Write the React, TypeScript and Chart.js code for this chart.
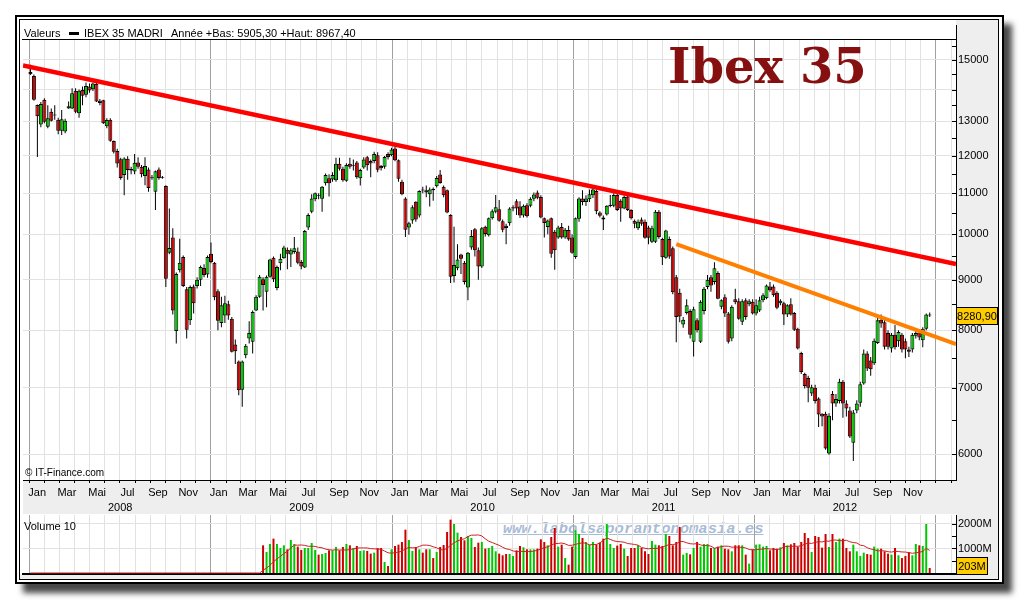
import React, { useEffect, useRef } from "react";
import { Chart, registerables } from "chart.js";

Chart.register(...registerables);
Chart.defaults.font.family = "'Liberation Sans', Arial, sans-serif";
Chart.defaults.font.size = 11;
Chart.defaults.color = "#000";

// ---------------- data ----------------
const firstWeek = "2008-01-03";
const axisStart = "2007-12-19";
const axisEnd = "2013-02-11";

const opens = [
  14580, 14450, 13510, 12910, 13670, 12840, 13300, 13180, 13050, 12720,
  12700, 13400, 13400, 13960, 13250, 13990, 13830, 14100, 14010, 14180,
  13570, 13660, 12860, 13050, 12420, 12140, 11910, 11480, 11920, 11640,
  11570, 11820, 11700, 11450, 11630, 11420, 11040, 11630, 11400, 11190,
  9580, 9930, 7990, 9200, 9490, 8800, 8190, 8860, 8870, 9000,
  9250, 9110, 9560, 9360, 8760, 8140, 8280, 8500, 8220, 7740,
  7440, 6970, 7550, 7850, 7790, 8380, 8650, 9010, 8750, 9060,
  9470, 8830, 9350, 9460, 9650, 9540, 9600, 9610, 9380, 9260,
  10160, 10540, 10850, 10960, 10860, 11260, 11390, 11360, 11340, 11780,
  11650, 11330, 11780, 11720, 11820, 11390, 11680, 11960, 11860, 11860,
  12020, 11720, 11700, 12050, 12020, 12210, 11880, 11300, 10870, 10160,
  10330, 10790, 10450, 11100, 11080, 10980, 11120, 11180, 11490, 11170,
  11080, 10460, 9080, 9240, 9540, 9360, 8840, 9700, 10120, 9640,
  9280, 10180, 9980, 10380, 10540, 10600, 10310, 10200, 10260, 10620,
  10800, 10670, 10450, 10700, 10690, 10860, 11020, 10910, 10380, 10170,
  10380, 10060, 9930, 10170, 9930, 10100, 9930, 9490, 10370, 10870,
  10780, 10850, 10950, 11060, 10520, 10400, 10470, 10680, 10690, 10960,
  10810, 10620, 10920, 10580, 10320, 10140, 10350, 10300, 10160, 9830,
  9830, 10540, 9890, 9470, 9890, 9680, 9050, 8730, 8110, 8330,
  8370, 7790, 8190, 7790, 8370, 8850, 9050, 8950, 9140, 8450,
  8640, 8320, 7850, 8600, 8560, 8160, 8580, 8500, 8550, 8320,
  8380, 8580, 8620, 8860, 8860, 8730, 8520, 8520, 8300, 8500,
  8330, 8030, 7590, 7230, 7160, 6910, 7000, 6830, 6590, 6590,
  6010, 6900, 6750, 6790, 7100, 6750, 6640, 6160, 6640, 6760,
  7070, 7580, 7460, 7410, 7770, 8200, 8150, 7950, 7670, 7920,
  7800, 7920, 7800, 7650, 7650, 7900, 7960, 7820, 8030, 8300,
];

const highs = [
  14830, 14500, 13520, 13600, 13720, 13500, 13400, 13500, 13110, 13350,
  13080, 13620, 14040, 14040, 14000, 14100, 14230, 14200, 14230, 14250,
  13700, 13670, 13100, 13100, 12440, 12200, 11950, 11960, 11990, 11700,
  12050, 11960, 11750, 11960, 11680, 11480, 11600, 11680, 11450, 11210,
  10620, 10140, 9150, 9900, 9520, 8850, 8880, 8900, 9050, 9300,
  9330, 9520, 9810, 9380, 8800, 8650, 8670, 8570, 8250, 7830,
  7460, 7460, 7750, 8170, 8380, 8680, 9100, 9050, 9090, 9450,
  9500, 9300, 9560, 9740, 9700, 9680, 9940, 9700, 9420, 10100,
  10500, 10980, 11020, 11000, 11190, 11520, 11500, 11550, 11950, 11950,
  11700, 11800, 11950, 11900, 11860, 11650, 11960, 12000, 11900, 12120,
  12100, 11750, 12000, 12100, 12230, 12300, 11900, 11350, 10900, 10300,
  10700, 10800, 11080, 11170, 11200, 11150, 11150, 11450, 11610, 11200,
  11100, 10480, 10180, 9770, 9560, 9400, 9600, 10100, 10150, 9700,
  10170, 10200, 10400, 10600, 10960, 10830, 10350, 10250, 10650, 10700,
  10850, 10800, 10720, 10750, 10900, 11020, 11070, 10950, 10400, 10350,
  10400, 10100, 10200, 10270, 10150, 10200, 10000, 10400, 10900, 11080,
  10950, 11100, 11150, 11100, 10550, 10450, 10700, 10960, 11000, 11000,
  10850, 10950, 10950, 10600, 10350, 10350, 10400, 10350, 10200, 10200,
  10580, 10580, 9920, 10110, 9950, 9720, 9100, 8810, 8250, 8600,
  8400, 8450, 8230, 8580, 8850, 9100, 9100, 9370, 9180, 8600,
  8700, 8350, 8480, 8810, 8620, 8600, 8620, 8600, 8600, 8600,
  8650, 8720, 8900, 8950, 8900, 8760, 8600, 8550, 8500, 8620,
  8350, 8050, 7610, 7250, 7200, 7050, 7050, 6850, 6600, 6620,
  6600, 6950, 6900, 7150, 7130, 6800, 6700, 6650, 6800, 7100,
  7650, 7620, 7520, 7850, 8250, 8300, 8200, 8000, 7950, 8100,
  8000, 7950, 7850, 7700, 7950, 8000, 8000, 8060, 8320, 8340,
];

const lows = [
  14480, 13640, 11970, 12830, 12950, 12800, 13000, 13050, 12620, 12600,
  12650, 13390, 13380, 13250, 13110, 13500, 13750, 13900, 13950, 13600,
  13500, 12920, 12800, 12400, 12070, 11680, 11350, 10950, 11350, 11500,
  11500, 11650, 11420, 11210, 11040, 11350, 10580, 11350, 11380, 8850,
  9550, 8300, 7760, 9150, 8850, 7850, 8100, 8320, 8820, 8870,
  9050, 9040, 9350, 8580, 8000, 8060, 8140, 8200, 7600, 7400,
  6880, 6700, 7500, 7760, 7580, 8370, 8630, 8380, 8440, 9040,
  8950, 8780, 9200, 9450, 9220, 9270, 9560, 9330, 9220, 9250,
  10100, 10500, 10800, 10850, 10540, 11200, 10920, 11300, 11300, 11600,
  11300, 11300, 11650, 11600, 11380, 11200, 11650, 11600, 11420, 11800,
  11550, 11600, 11650, 11900, 11990, 11850, 11300, 10950, 9940, 9990,
  10250, 10300, 10400, 11000, 10900, 10670, 10810, 11150, 11250, 10900,
  10500, 8930, 8940, 9200, 9120, 8900, 8580, 9650, 9500, 9000,
  9250, 9950, 9950, 10350, 10500, 10300, 10050, 9770, 10200, 10550,
  10460, 10390, 10400, 10400, 10650, 10800, 10850, 10380, 9930, 10000,
  9470, 9210, 9900, 9900, 9900, 9850, 9560, 9450, 10300, 10700,
  10680, 10780, 10880, 10480, 10400, 10100, 10450, 10650, 10650, 10560,
  10300, 10600, 10560, 10350, 10140, 10100, 10200, 9900, 9770, 9800,
  9800, 9900, 9310, 9450, 9450, 8700, 7780, 8150, 8050, 8300,
  7850, 7530, 7960, 7770, 8300, 8800, 8750, 8900, 8600, 8400,
  8250, 7760, 7800, 8500, 8200, 8100, 8200, 8460, 8300, 8280,
  8350, 8540, 8600, 8750, 8650, 8400, 8480, 8100, 8250, 8280,
  7990, 7650, 7230, 6990, 6770, 6870, 6750, 6390, 6400, 6060,
  5990, 6490, 6700, 6750, 6530, 6550, 6230, 5905, 6600, 6700,
  7050, 7280, 7200, 7380, 7750, 8050, 7650, 7650, 7600, 7650,
  7700, 7600, 7500, 7520, 7600, 7850, 7820, 7690, 8000, 8250,
];

const closes = [
  14510, 13670, 13160, 13540, 12990, 13100, 13020, 13210, 12725, 13070,
  13020, 13470, 13880, 13300, 13960, 13800, 14120, 13970, 14200, 13620,
  13640, 12950, 13045, 12430, 12120, 11790, 11400, 11930, 11610, 11600,
  11810, 11700, 11500, 11720, 11140, 11390, 11580, 11400, 11420, 9020,
  9690, 8380, 9120, 9360, 8870, 8010, 8850, 8520, 9000, 9270,
  9100, 9490, 9380, 8640, 8180, 8480, 8520, 8280, 7610, 7620,
  6960, 7440, 7720, 7950, 8350, 8650, 9060, 8890, 9060, 9430,
  9010, 9270, 9450, 9700, 9560, 9640, 9680, 9360, 9280, 10080,
  10460, 10870, 11000, 10940, 11170, 11480, 11260, 11480, 11780, 11650,
  11340, 11750, 11700, 11740, 11420, 11610, 11900, 11740, 11790, 12050,
  11620, 11660, 11970, 11970, 12180, 11880, 11380, 10980, 10110, 10260,
  10650, 10350, 11060, 11070, 11020, 11100, 11080, 11400, 11270, 10950,
  10520, 9060, 9310, 9430, 9450, 8950, 9580, 9960, 9640, 9280,
  10140, 10010, 10380, 10550, 10650, 10320, 10110, 10150, 10620, 10650,
  10620, 10450, 10690, 10430, 10860, 10970, 10890, 10400, 10270, 10330,
  9560, 9640, 10160, 9930, 10110, 9880, 9580, 10380, 10870, 10780,
  10870, 10980, 11100, 10550, 10440, 10350, 10690, 10710, 10960, 10580,
  10620, 10910, 10580, 10380, 10250, 10300, 10250, 9920, 9920, 10140,
  10540, 9940, 9480, 10090, 9500, 8740, 8250, 8260, 8200, 8480,
  7920, 8400, 8000, 8550, 8810, 9000, 8880, 9240, 8610, 8580,
  8320, 7790, 8450, 8540, 8220, 8560, 8250, 8560, 8320, 8480,
  8580, 8680, 8880, 8780, 8680, 8430, 8570, 8300, 8480, 8300,
  8010, 7670, 7260, 7030, 7000, 7010, 6790, 6580, 6550, 6080,
  6560, 6750, 6820, 7100, 6750, 6670, 6250, 6610, 6750, 7060,
  7580, 7320, 7310, 7810, 8190, 8130, 7700, 7700, 7920, 7690,
  7970, 7650, 7650, 7610, 7920, 7950, 7870, 8030, 8300, 8280.9,
];

// weekly volume in millions, available from week index 67 onward
const volumeFirstIndex = 67;
const volumes = [
  1130, 858, 1184,
  1402, 1184, 1021, 1130, 967, 1348, 1184, 1076, 940, 1021,
  1021, 1225, 940, 749, 776, 817, 926, 926, 1062, 926,
  1062, 1184, 1130, 1021, 1103, 899, 926, 899, 790, 831,
  1021, 1021, 450, 287, 967, 1103, 1157, 1266, 1769, 1348,
  899, 1062, 967, 831, 967, 967, 613, 858, 1062, 1144,
  1674, 2177, 2000, 1647, 1470, 1334, 1511, 1429, 1062, 1239,
  1266, 994, 1021, 1103, 885, 790, 722, 776, 776, 695,
  926, 1103, 1048, 967, 967, 967, 994, 1375, 1266, 1130,
  1470, 1837, 1076, 1157, 613, 341, 1076, 1742, 1592, 1429,
  1266, 1157, 1266, 1171, 1239, 1402, 2000, 1184, 1021, 1117,
  1184, 994, 695, 1021, 1021, 1130, 1021, 885, 776, 1307,
  1157, 1130, 1103, 1592, 1511, 1130, 1266, 1878, 749, 817,
  763, 1021, 1266, 1076, 1184, 1184, 1021, 1021, 1076, 1130,
  994, 967, 885, 1130, 1130, 1130, 749, 382, 967, 1157,
  1171, 1076, 1103, 926, 1021, 994, 1048, 1225, 1130, 1171,
  1225, 1076, 1266, 1633, 1429, 858, 1511, 1470, 1035, 1592,
  1062, 1592, 1266, 1402, 1402, 1021, 885, 1157, 885, 695,
  831, 776, 749, 1076, 994, 994, 885, 790, 749, 1021,
  722, 613, 695, 858, 722, 1184, 1130, 1103, 2000, 203,
];
const volumeAverageWeeks = 10;

const monthLabels = ["Jan", "Mar", "Mai", "Jul", "Sep", "Nov"];
const labelMonths = [0, 2, 4, 6, 8, 10];
const years = [2008, 2009, 2010, 2011, 2012];

const priceTicks = [
  6000, 6500, 7000, 7500, 8000, 8500, 9000, 9500, 10000, 10500,
  11000, 11500, 12000, 12500, 13000, 13500, 14000, 14500, 15000, 15500,
];
const priceTickLabels = [
  "6000", "", "7000", "", "8000", "", "9000", "", "10000", "",
  "11000", "", "12000", "", "13000", "", "", "", "15000", "",
];
const volumeTicks = [500, 1000, 1500, 2000];
const volumeTickLabels = ["", "1000M", "", "2000M"];

const redTrend = { dates: [axisStart, axisEnd], values: [14805, 9333] };
const orangeTrend = { dates: ["2011-07-28", axisEnd], values: [9778, 7749] };

// ---------------- helpers ----------------
const DAY = 86400000;
const ORIGIN = Date.UTC(2008, 0, 1);
const dayOf = (iso: string) => {
  const [y, m, d] = iso.split("-").map(Number);
  return (Date.UTC(y, m - 1, d) - ORIGIN) / DAY;
};
const dayYM = (y: number, m: number) => (Date.UTC(y, m, 1) - ORIGIN) / DAY;

const GREEN = "#00c800";
const RED = "#cc0000";
const FONT = "'Liberation Sans', Arial, sans-serif";

const xMin = dayOf(axisStart);
const xMax = dayOf(axisEnd);
const weekX = opens.map((_, i) => dayOf(firstWeek) + 7 * i);
const up = closes.map((c, i) => c >= opens[i]);

const monthStartTicks = () => {
  const out: any[] = [];
  for (let y = 2007; y <= 2013; y++)
    for (let m = 0; m < 12; m++) {
      const v = dayYM(y, m);
      if (v >= xMin && v <= xMax) out.push({ value: v, major: m === 0 });
    }
  return out;
};
const monthLabelTicks: { value: number; label: string }[] = [];
years.forEach((y) =>
  labelMonths.forEach((m, k) =>
    monthLabelTicks.push({ value: (dayYM(y, m) + dayYM(y, m + 1)) / 2, label: monthLabels[k] })
  )
);
const yearTicks = years.map((y) => ({ value: (dayYM(y, 0) + dayYM(y + 1, 0)) / 2, label: String(y) }));

const volumeSeries = opens.map((_, i) => (i >= volumeFirstIndex ? volumes[i - volumeFirstIndex] : 0));
const volumeAverage = volumeSeries.map((_, i) => {
  let s = 0;
  for (let k = i - volumeAverageWeeks + 1; k <= i; k++) s += k >= 0 ? volumeSeries[k] : 0;
  return s / volumeAverageWeeks;
});

const gridX = (withTicks: boolean, borderWidth: number, height: number) => ({
  type: "linear",
  min: xMin,
  max: xMax,
  bounds: "data",
  offset: false,
  afterBuildTicks: (s: any) => {
    s.ticks = monthStartTicks();
  },
  afterFit: (s: any) => {
    s.height = height;
    s.paddingLeft = 0;
    s.paddingRight = 0;
  },
  grid: {
    offset: false,
    color: (c: any) => (c.tick && c.tick.major ? "#a0a0a0" : "#e2e2e2"),
    drawTicks: withTicks,
    tickLength: 3,
    tickColor: "#000",
  },
  border: { display: true, color: "#000", width: borderWidth },
  ticks: { display: false },
});

const labelAxis = (ticks: { value: number; label: string }[], weight: number) => ({
  type: "linear",
  axis: "x",
  position: "bottom",
  weight,
  min: xMin,
  max: xMax,
  bounds: "data",
  offset: false,
  afterBuildTicks: (s: any) => {
    s.ticks = ticks.map((t) => ({ value: t.value }));
  },
  afterFit: (s: any) => {
    s.height = 15;
    s.paddingLeft = 0;
    s.paddingRight = 0;
  },
  grid: { display: false, drawTicks: false, tickLength: 0 },
  border: { display: false },
  ticks: {
    autoSkip: false,
    maxRotation: 0,
    minRotation: 0,
    padding: 2,
    color: "#000",
    font: { size: 11, family: FONT },
    callback: (_v: any, i: number) => (ticks[i] ? ticks[i].label : ""),
  },
});

const rightAxisFit = (s: any) => {
  s.width = 42;
  s.paddingTop = 0;
  s.paddingBottom = 0;
};

const drawValueBox = (chart: any, scale: any, value: number, text: string, width: number) => {
  const { ctx, chartArea } = chart;
  const bh = 17;
  let cy = scale.getPixelForValue(value);
  cy = Math.min(cy, chartArea.bottom - bh / 2 - 0.5);
  const top = Math.round(cy - bh / 2) + 0.5;
  const left = chartArea.right + 0.5;
  ctx.save();
  ctx.fillStyle = "#ffcc00";
  ctx.fillRect(left, top, width, bh);
  ctx.strokeStyle = "#000";
  ctx.lineWidth = 1;
  ctx.strokeRect(left, top, width, bh);
  ctx.fillStyle = "#000";
  ctx.font = `11px ${FONT}`;
  ctx.textAlign = "center";
  ctx.textBaseline = "middle";
  ctx.fillText(text, left + width / 2, top + bh / 2 + 0.5);
  ctx.restore();
};

const drawInnerTicks = (chart: any, scale: any, values: number[]) => {
  const { ctx, chartArea } = chart;
  ctx.save();
  ctx.strokeStyle = "#000";
  ctx.lineWidth = 1;
  values.forEach((v) => {
    const py = Math.round(scale.getPixelForValue(v)) + 0.5;
    if (py < chartArea.top - 1 || py > chartArea.bottom) return;
    ctx.beginPath();
    ctx.moveTo(chartArea.right - 4, py);
    ctx.lineTo(chartArea.right, py);
    ctx.stroke();
  });
  ctx.restore();
};

const mainConfig = (): any => ({
  type: "bar",
  data: {
    datasets: [
      {
        type: "line",
        data: redTrend.dates.map((d, i) => ({ x: dayOf(d), y: redTrend.values[i] })),
        borderColor: "#ff0000",
        borderWidth: 4.5,
        pointRadius: 0,
        order: 0,
      },
      {
        type: "line",
        data: orangeTrend.dates.map((d, i) => ({ x: dayOf(d), y: orangeTrend.values[i] })),
        borderColor: "#ff8000",
        borderWidth: 4,
        pointRadius: 0,
        order: 0,
      },
      {
        type: "bar",
        data: weekX.map((x, i) => ({ x, y: [opens[i], closes[i]] })),
        backgroundColor: up.map((u) => (u ? GREEN : RED)),
        borderColor: "#000",
        borderWidth: 1,
        borderSkipped: false,
        barThickness: 4,
        grouped: false,
        inflateAmount: 0,
        order: 1,
      },
      {
        type: "bar",
        data: weekX.map((x, i) => ({ x, y: [lows[i], highs[i]] })),
        backgroundColor: "#000",
        borderWidth: 0,
        barThickness: 1,
        grouped: false,
        inflateAmount: 0,
        order: 2,
      },
    ],
  },
  options: {
    animation: false,
    responsive: false,
    events: [],
    layout: { padding: { left: 3, top: 20, right: 0, bottom: 0 } },
    plugins: { legend: { display: false }, tooltip: { enabled: false } },
    scales: {
      x: gridX(true, 1, 4),
      xm: labelAxis(monthLabelTicks, 1),
      xy: labelAxis(yearTicks, 2),
      y: {
        type: "logarithmic",
        position: "right",
        min: 5650,
        max: 15710,
        bounds: "data",
        afterBuildTicks: (s: any) => {
          s.ticks = priceTicks.map((v) => ({ value: v }));
        },
        afterFit: rightAxisFit,
        grid: {
          color: (c: any) => (c.tick && c.tick.value % 1000 === 0 ? "#e2e2e2" : "rgba(0,0,0,0)"),
          drawTicks: false,
        },
        border: { color: "#000", width: 1 },
        ticks: {
          autoSkip: false,
          padding: 2,
          color: "#000",
          font: { size: 11, family: FONT },
          callback: (_v: any, i: number) => priceTickLabels[i] ?? "",
        },
      },
    },
  },
  plugins: [
    {
      id: "mainDecor",
      afterDraw(chart: any) {
        drawInnerTicks(chart, chart.scales.y, priceTicks);
        const last = closes[closes.length - 1];
        drawValueBox(chart, chart.scales.y, last, last.toFixed(2).replace(".", ","), 41);
      },
    },
  ],
});

const volConfig = (): any => ({
  type: "bar",
  data: {
    datasets: [
      {
        type: "line",
        data: weekX.map((x, i) => ({ x, y: volumeAverage[i] })),
        borderColor: "#d02020",
        borderWidth: 1,
        pointRadius: 0,
        order: 0,
      },
      {
        type: "bar",
        data: weekX
          .map((x, i) => ({ x, y: volumeSeries[i], i }))
          .filter((p) => p.i >= volumeFirstIndex)
          .map((p) => ({ x: p.x, y: p.y })),
        backgroundColor: weekX
          .map((_, i) => i)
          .filter((i) => i >= volumeFirstIndex)
          .map((i) => (up[i] ? GREEN : RED)),
        borderWidth: 0,
        barThickness: 2,
        grouped: false,
        inflateAmount: 0,
        order: 1,
      },
    ],
  },
  options: {
    animation: false,
    responsive: false,
    events: [],
    layout: { padding: { left: 3, top: 1, right: 0, bottom: 0 } },
    plugins: { legend: { display: false }, tooltip: { enabled: false } },
    scales: {
      x: gridX(false, 2, 2),
      y: {
        type: "linear",
        position: "right",
        min: -41,
        max: 2367,
        bounds: "data",
        afterBuildTicks: (s: any) => {
          s.ticks = volumeTicks.map((v) => ({ value: v }));
        },
        afterFit: rightAxisFit,
        grid: {
          color: (c: any) => (c.tick && c.tick.value % 1000 === 0 ? "#e2e2e2" : "rgba(0,0,0,0)"),
          drawTicks: false,
        },
        border: { color: "#000", width: 1 },
        ticks: {
          autoSkip: false,
          padding: 2,
          color: "#000",
          font: { size: 11, family: FONT },
          callback: (_v: any, i: number) => volumeTickLabels[i] ?? "",
        },
      },
    },
  },
  plugins: [
    {
      id: "volDecor",
      afterDraw(chart: any) {
        drawInnerTicks(chart, chart.scales.y, volumeTicks);
        const last = volumeSeries[volumeSeries.length - 1];
        drawValueBox(chart, chart.scales.y, last, `${Math.round(last)}M`, 31);
      },
    },
  ],
});

const abs = (o: any): any => ({ position: "absolute", ...o });

export default function App() {
  const mainRef = useRef<HTMLCanvasElement>(null);
  const volRef = useRef<HTMLCanvasElement>(null);

  useEffect(() => {
    const main = new Chart(mainRef.current as HTMLCanvasElement, mainConfig());
    const vol = new Chart(volRef.current as HTMLCanvasElement, volConfig());
    return () => {
      main.destroy();
      vol.destroy();
    };
  }, []);

  const txt = { fontFamily: FONT, fontSize: 11, lineHeight: "12px", color: "#000", whiteSpace: "nowrap" };

  return (
    <div style={abs({ left: 0, top: 0, width: 1020, height: 600, background: "#fff", overflow: "hidden" })}>
      <div
        style={abs({
          left: 15,
          top: 15,
          width: 989,
          height: 569,
          boxSizing: "border-box",
          border: "2.5px solid #000",
          background: "#fff",
          boxShadow: "8px 9px 6px rgba(0,0,0,0.72)",
        })}
      />
      <div
        style={abs({
          left: 19,
          top: 19,
          width: 980,
          height: 561,
          boxSizing: "border-box",
          border: "1px solid #000",
          background: "#eeeeee",
        })}
      />
      <div style={abs({ left: 20, top: 20, width: 936, height: 460, background: "#fff" })} />
      <div style={abs({ left: 20, top: 480, width: 3, height: 34, background: "#fff" })} />
      <div style={abs({ left: 20, top: 514, width: 936, height: 60, background: "#fff" })} />
      <div
        style={abs({
          left: 503,
          top: 520,
          fontFamily: "'Liberation Mono', 'DejaVu Sans Mono', monospace",
          fontStyle: "italic",
          fontWeight: "bold",
          fontSize: 15.5,
          lineHeight: "18px",
          color: "#a9bcd6",
          textDecoration: "underline",
          whiteSpace: "nowrap",
        })}
      >
        www.labolsaporantonomasia.es
      </div>
      <div style={abs({ left: 22, top: 39, width: 934, height: 1, background: "#000" })} />
      <div style={abs({ left: 956, top: 25, width: 1, height: 15, background: "#000" })} />

      <canvas ref={mainRef} width={978} height={494} style={abs({ left: 20, top: 20, width: 978, height: 494 })} />
      <canvas ref={volRef} width={978} height={62} style={abs({ left: 20, top: 514, width: 978, height: 62 })} />

      <div style={abs({ left: 24, top: 27, ...txt })}>Valeurs</div>
      <div style={abs({ left: 69, top: 32, width: 10, height: 3, background: "#000" })} />
      <div style={abs({ left: 84, top: 27, ...txt })}>IBEX 35 MADRI</div>
      <div style={abs({ left: 171, top: 27, ...txt })}>Année +Bas: 5905,30 +Haut: 8967,40</div>

      <div
        style={abs({
          left: 668,
          top: 42,
          fontFamily: "'DejaVu Serif', serif",
          fontWeight: "bold",
          fontSize: 48,
          lineHeight: "48px",
          color: "#861010",
          whiteSpace: "nowrap",
        })}
      >
        Ibex 35
      </div>

      <div style={abs({ left: 25, top: 468, ...txt, fontSize: 10, lineHeight: "10px" })}>© IT-Finance.com</div>
      <div style={abs({ left: 24, top: 520, ...txt })}>Volume 10</div>
    </div>
  );
}
